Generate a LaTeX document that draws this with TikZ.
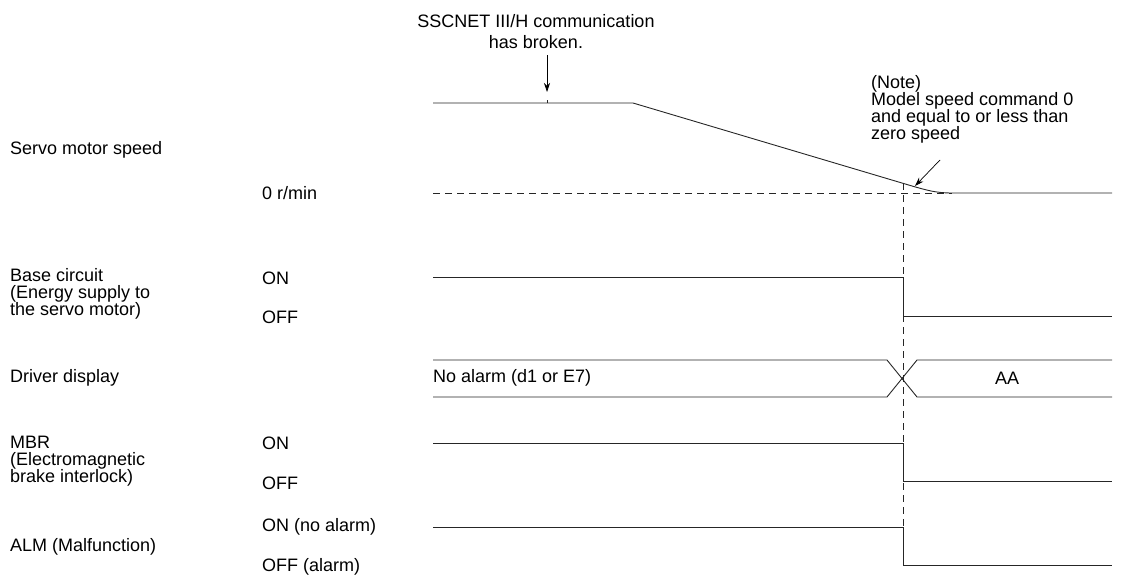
\documentclass[tikz,border=0pt]{standalone}
\usepackage{fontspec}
\setmainfont{Liberation Sans}
\usetikzlibrary{arrows.meta,calc}

\begin{document}
\begin{tikzpicture}[x=1pt, y=-1pt, every node/.style={font=\fontsize{18}{17}\selectfont, inner sep=0pt}]
  \tikzset{
    wave/.style={line width=0.9pt, black!85},
    guide/.style={line width=0.8pt, black!85, dash pattern=on 7pt off 5pt},
    signame/.style={anchor=west, align=left},
    level/.style={anchor=west},
    pointer/.style={line width=0.7pt, -{Stealth[length=9pt, width=6pt]}}
  }
  \useasboundingbox (0,0) rectangle (1122,578);

  % Signal names
  \node[signame] (speedname) at (10,150) {Servo motor speed};
  \node[signame] (basename)  at (10,294) {Base circuit\\(Energy supply to\\the servo motor)};
  \node[signame] (dispname)  at (10,378) {Driver display};
  \node[signame] (mbrname)   at (10,461) {MBR\\(Electromagnetic\\brake interlock)};
  \node[signame] (almname)   at (10,547) {ALM (Malfunction)};

  % Levels
  \node[level] (zero)    at (262,193) {0 r/min};
  \node[level] (baseon)  at (262,278) {ON};
  \node[level] (baseoff) at (262,317) {OFF};
  \node[level] (mbron)   at (262,443) {ON};
  \node[level] (mbroff)  at (262,483) {OFF};
  \node[level] (almon)   at (262,527) {ON (no alarm)};
  \node[level] (almoff)  at (262,567) {OFF (alarm)};

  % Servo motor speed
  \draw[guide] (433,193) -- (952,193);
  \draw[wave] (433,103) -- (633,103) -- (912,186) to[out=-16, in=180] (952,193) -- (1112,193);
  \draw[wave] (547,100) -- (547,103);

  % Base circuit
  \draw[wave] (433,277) -- (903,277) -- (903,316) -- (1112,316);

  % Driver display
  \draw[wave] (433,360) -- (887,360) -- (917,397) -- (1112,397);
  \draw[wave] (433,397) -- (887,397) -- (917,360) -- (1112,360);
  \node[anchor=west] (noalarm) at (433,378) {No alarm (d1 or E7)};
  \node (aa) at (1007,378) {AA};

  % MBR
  \draw[wave] (433,443) -- (903,443) -- (903,481) -- (1112,481);

  % ALM
  \draw[wave] (433,527) -- (903,527) -- (903,565) -- (1112,565);

  % Timing guide
  \draw[guide] (903,183) -- (903,527);

  % Annotations
  \node[align=center, font=\fontsize{18}{21}\selectfont] (broken) at (536,32) {SSCNET III/H communication\\has broken.};
  \coordinate (brokentip) at (547,92);
  \draw[pointer] (broken.south -| brokentip) ++(0,6) -- (brokentip);

  \node[anchor=north west, align=left] (note) at (871,75) {(Note)\\Model speed command 0\\and equal to or less than\\zero speed};
  \coordinate (notetail) at (940,160);
  \coordinate (notetip) at (915,186);
  \draw[pointer] (notetail) -- (notetip);
\end{tikzpicture}
\end{document}
